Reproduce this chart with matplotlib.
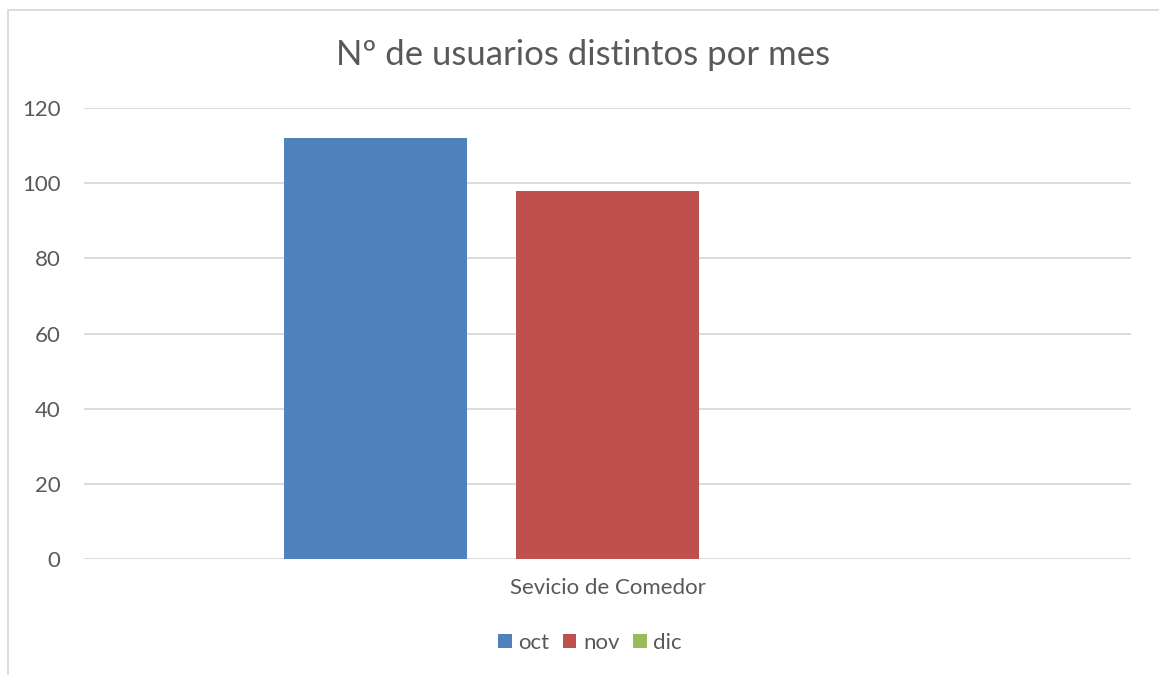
import matplotlib
matplotlib.use("Agg")
import matplotlib.pyplot as plt
import matplotlib.patches as patches

plt.rcParams['font.family'] = ['Lato', 'DejaVu Sans']

categories = ['Sevicio de Comedor']
months = ['oct', 'nov', 'dic']
values = [112, 98, 0]
colors = ['#4F81BD', '#C0504D', '#9BBB59']
yticks = [0, 20, 40, 60, 80, 100, 120]

fig = plt.figure(figsize=(11.59, 6.75), dpi=100)

# chart area border (only left/top visible, rest cropped off)
fig.patches.append(patches.Rectangle((8 / 1159, -0.1), 1.2, 1 - 10 / 675 + 0.1,
                                     transform=fig.transFigure, fill=False,
                                     edgecolor='#D9D9D9', linewidth=1.3))

ax = fig.add_axes([84 / 1159, 1 - 559 / 675, (1131 - 84) / 1159, (559 - 108) / 675])

bar_w = 0.175
step = 0.2216
for i, (m, v, c) in enumerate(zip(months, values, colors)):
    ax.bar(0 + (i - 1) * step, v, width=bar_w, color=c, label=m, zorder=3)

ax.set_xlim(-0.5, 0.5)
ax.set_ylim(0, 120)
ax.set_yticks(yticks)
ax.set_yticklabels([str(t) for t in yticks], fontsize=16, color='#595959')
ax.set_xticks([0])
ax.set_xticklabels(categories, fontsize=16, color='#595959')
ax.tick_params(axis='both', length=0)
ax.tick_params(axis='y', pad=17)
ax.tick_params(axis='x', pad=14)
ax.grid(axis='y', color='#D9D9D9', linewidth=1.3, zorder=0)
for s in ax.spines.values():
    s.set_visible(False)

fig.text(0.5035, 1 - 55 / 675, 'Nº de usuarios distintos por mes', ha='center', va='center',
         fontsize=25, color='#595959')

fig.legend(loc='center', bbox_to_anchor=(0.509, 1 - 643 / 675), ncol=3, frameon=False,
           fontsize=16, labelcolor='#595959', handlelength=0.62, handleheight=0.62,
           handletextpad=0.3, columnspacing=0.6)

fig.savefig('out.png', dpi=100, facecolor='white')
